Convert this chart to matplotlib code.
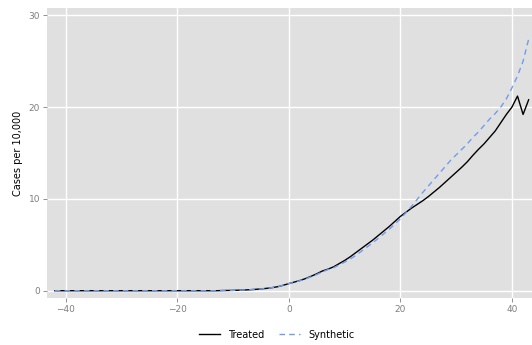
import numpy as np
import matplotlib
matplotlib.use('Agg')
import matplotlib.pyplot as plt

# days relative to treatment, -42 .. 43
days = list(range(-42, 44))

treated = [0.0] * 30 + [
    0.02, 0.03, 0.04, 0.06, 0.08, 0.11, 0.15, 0.2, 0.26, 0.34, 0.44, 0.6,   # -12 .. -1
    0.78, 0.95, 1.12, 1.33, 1.58, 1.85, 2.15, 2.35, 2.6, 2.95,               # 0 .. 9
    3.3, 3.7, 4.15, 4.6, 5.05, 5.5, 6.0, 6.5, 7.0, 7.55,                    # 10 .. 19
    8.1, 8.55, 9.0, 9.4, 9.8, 10.25, 10.75, 11.25, 11.8, 12.35,             # 20 .. 29
    12.9, 13.45, 14.05, 14.75, 15.4, 16.0, 16.7, 17.4, 18.3, 19.2,          # 30 .. 39
    20.0, 21.2, 19.2, 20.8,                                                 # 40 .. 43
]

synthetic = [0.0] * 30 + [
    0.02, 0.03, 0.04, 0.06, 0.08, 0.11, 0.15, 0.2, 0.26, 0.34, 0.44, 0.6,
    0.78, 0.93, 1.1, 1.3, 1.52, 1.77, 2.05, 2.3, 2.5, 2.8,
    3.12, 3.45, 3.85, 4.3, 4.75, 5.2, 5.7, 6.2, 6.7, 7.25,
    7.85, 8.5, 9.2, 9.95, 10.7, 11.4, 12.1, 12.8, 13.5, 14.2,
    14.8, 15.4, 16.0, 16.7, 17.3, 18.0, 18.7, 19.3, 20.0, 20.9,
    22.1, 23.4, 25.0, 27.4,
]

grey_txt = '#7f7f7f'

fig = plt.figure(figsize=(5.32, 3.45), dpi=100)
ax = fig.add_axes([0.0883, 0.136, 1.0 - 0.0883, 0.841])
ax.set_facecolor('#E0E0E0')

ax.plot(days, treated, color='black', lw=1.0, label='Treated', zorder=3)
ax.plot(days, synthetic, color='#6f9cf0', lw=1.0, ls=(0, (4, 3)), label='Synthetic', zorder=3)

ax.set_xlim(-43.4, 43.6)
ax.set_ylim(-0.8, 30.8)
ax.set_xticks([-40, -20, 0, 20, 40])
ax.set_yticks([0, 10, 20, 30])
ax.grid(True, color='white', lw=1.0)
ax.set_axisbelow(True)
for s in ax.spines.values():
    s.set_visible(False)
ax.tick_params(axis='both', colors='#7f7f7f', labelcolor=grey_txt, labelsize=6.5,
               length=3, width=0.6, pad=2)
ax.set_ylabel('Cases per 10,000', fontsize=7, labelpad=4)

fig.legend(loc='lower center', bbox_to_anchor=(0.52, -0.01), ncol=2, frameon=False,
           fontsize=7, handlelength=2.2, columnspacing=1.5, handletextpad=0.8)

fig.savefig('out.png', dpi=100)
